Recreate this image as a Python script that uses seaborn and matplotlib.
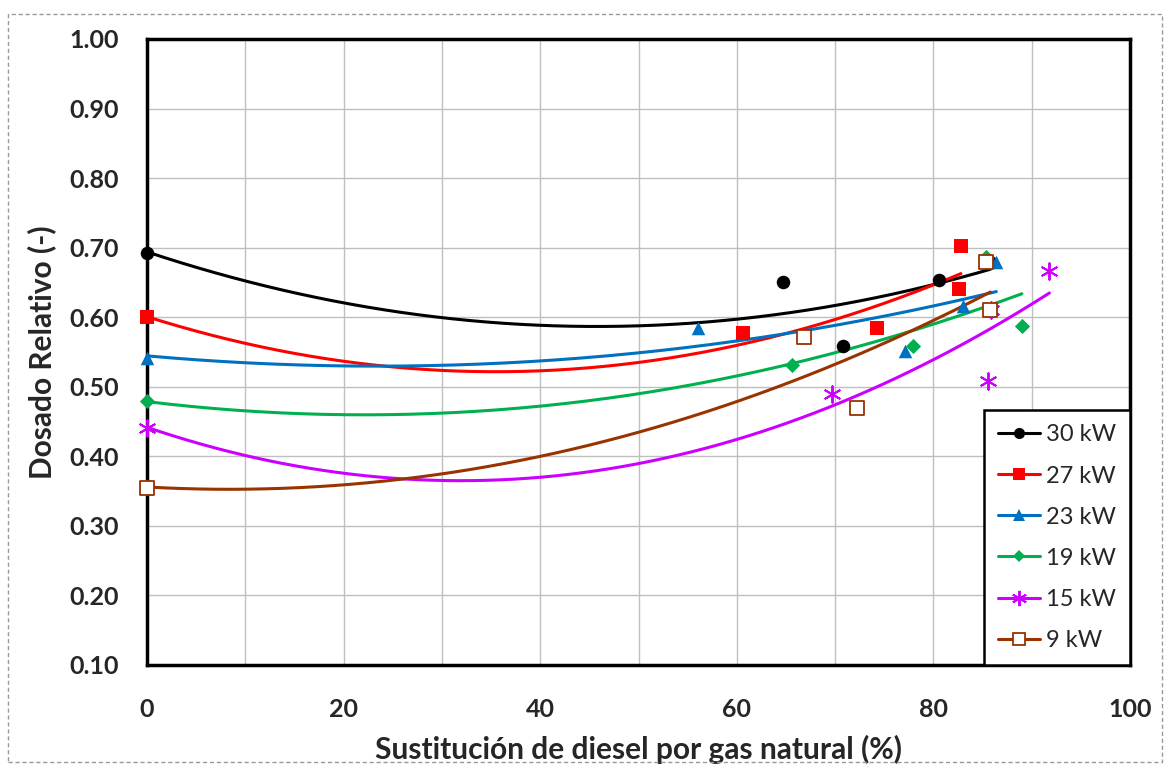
import numpy as np
import pandas as pd
import matplotlib
matplotlib.use("Agg")
import matplotlib.pyplot as plt
from matplotlib.lines import Line2D
from matplotlib.patches import Rectangle
import seaborn as sns

# Measured points: substitution (%) and relative equivalence ratio, per engine load
load_labels = ["30 kW", "27 kW", "23 kW", "19 kW", "15 kW", "9 kW"]

sub_30 = [0.0, 64.7, 70.8, 80.6, 85.8]
dos_30 = [0.693, 0.651, 0.558, 0.654, 0.680]

sub_27 = [0.0, 60.6, 74.3, 82.6, 82.8]
dos_27 = [0.600, 0.577, 0.584, 0.640, 0.702]

sub_23 = [0.0, 56.1, 77.1, 83.0, 86.4]
dos_23 = [0.542, 0.584, 0.551, 0.616, 0.680]

sub_19 = [0.0, 65.6, 77.9, 85.4, 89.0]
dos_19 = [0.479, 0.532, 0.558, 0.686, 0.587]

sub_15 = [0.0, 69.7, 85.6, 85.9, 91.8]
dos_15 = [0.441, 0.489, 0.509, 0.610, 0.666]

sub_9 = [0.0, 66.8, 72.2, 85.4, 85.8]
dos_9 = [0.355, 0.572, 0.469, 0.679, 0.610]

x_ticks = [0, 20, 40, 60, 80, 100]
y_ticks = [0.10, 0.20, 0.30, 0.40, 0.50, 0.60, 0.70, 0.80, 0.90, 1.00]

series = [
    (sub_30, dos_30, "#000000", "o", True),
    (sub_27, dos_27, "#FF0000", "s", True),
    (sub_23, dos_23, "#0070C0", "^", True),
    (sub_19, dos_19, "#00B050", "D", True),
    (sub_15, dos_15, "#CC00FF", (6, 2, 0), True),
    (sub_9, dos_9, "#993300", "s", False),
]

sns.set_theme(style="white")
plt.rcParams["font.family"] = ["Lato", "DejaVu Sans"]

fig = plt.figure(figsize=(11.70, 7.69), dpi=100)
ax = fig.add_axes([147 / 1170, 1 - 665 / 769, (1130 - 147) / 1170, (665 - 39) / 769])

handles = []
for (xs, ys, color, marker, filled), label in zip(series, load_labels):
    # second-order polynomial trend line over the measured range
    coef = np.polyfit(xs, ys, 2)
    xf = np.linspace(min(xs), max(xs), 200)
    trend = pd.DataFrame({"x": xf, "y": np.polyval(coef, xf)})
    sns.lineplot(data=trend, x="x", y="y", color=color, linewidth=2.2, ax=ax,
                 zorder=2, legend=False)

    pts = pd.DataFrame({"x": xs, "y": ys})
    msize = 95 if marker != "D" else 60
    if isinstance(marker, tuple):
        sns.scatterplot(data=pts, x="x", y="y", marker=marker, color=color,
                        s=140, linewidth=1.4, ax=ax, zorder=3, legend=False)
    elif filled:
        sns.scatterplot(data=pts, x="x", y="y", marker=marker, color=color,
                        edgecolor=color, s=msize, linewidth=0, ax=ax, zorder=3,
                        legend=False)
    else:
        sns.scatterplot(data=pts, x="x", y="y", marker=marker, facecolor="white",
                        edgecolor=color, s=msize, linewidth=1.3, ax=ax, zorder=3,
                        legend=False)

    if isinstance(marker, tuple):
        h = Line2D([], [], color=color, linewidth=2.2, marker=marker,
                   markersize=11, markeredgewidth=1.4)
    elif filled:
        h = Line2D([], [], color=color, linewidth=2.2, marker=marker,
                   markersize=8 if marker != "D" else 6, markeredgewidth=0)
    else:
        h = Line2D([], [], color=color, linewidth=2.2, marker=marker,
                   markersize=8, markerfacecolor="white", markeredgecolor=color,
                   markeredgewidth=1.3)
    handles.append(h)

# markers sitting on the y axis stay whole
for coll in ax.collections:
    coll.set_clip_on(False)

ax.set_xlim(0, 100)
ax.set_ylim(0.10, 1.00)
ax.set_xticks(x_ticks)
ax.set_xticks([10, 30, 50, 70, 90], minor=True)
ax.set_yticks(y_ticks)
ax.set_xticklabels([str(v) for v in x_ticks], fontsize=18, fontweight="bold")
ax.set_yticklabels([f"{v:.2f}" for v in y_ticks], fontsize=18, fontweight="bold")
ax.tick_params(axis="both", which="both", length=0)
ax.tick_params(axis="x", pad=24)
ax.tick_params(axis="y", pad=20)
ax.grid(True, which="both", color="#BFBFBF", linewidth=1.0)
ax.set_axisbelow(True)
for sp in ax.spines.values():
    sp.set_visible(True)
    sp.set_color("black")
    sp.set_linewidth(2.5)

ax.set_xlabel("Sustitución de diesel por gas natural (%)", fontsize=21.5,
              fontweight="bold", labelpad=10)
ax.set_ylabel("Dosado Relativo (-)", fontsize=21.5, fontweight="bold", labelpad=10)

leg = ax.legend(handles, load_labels, loc="lower right", fontsize=17,
                frameon=True, fancybox=False, edgecolor="black", framealpha=1,
                handlelength=1.75, handletextpad=0.25, labelspacing=0.85,
                borderpad=0.6, borderaxespad=0.0)
leg.get_frame().set_linewidth(1.8)

# dashed chart-area border
fig.patches.append(Rectangle((8 / 1170, 1 - 762 / 769), (1162 - 8) / 1170,
                             (762 - 14) / 769, transform=fig.transFigure,
                             fill=False, edgecolor="#9A9A9A", linewidth=1.0,
                             linestyle=(0, (3, 2))))

fig.savefig("out.png", dpi=100, facecolor="white")
